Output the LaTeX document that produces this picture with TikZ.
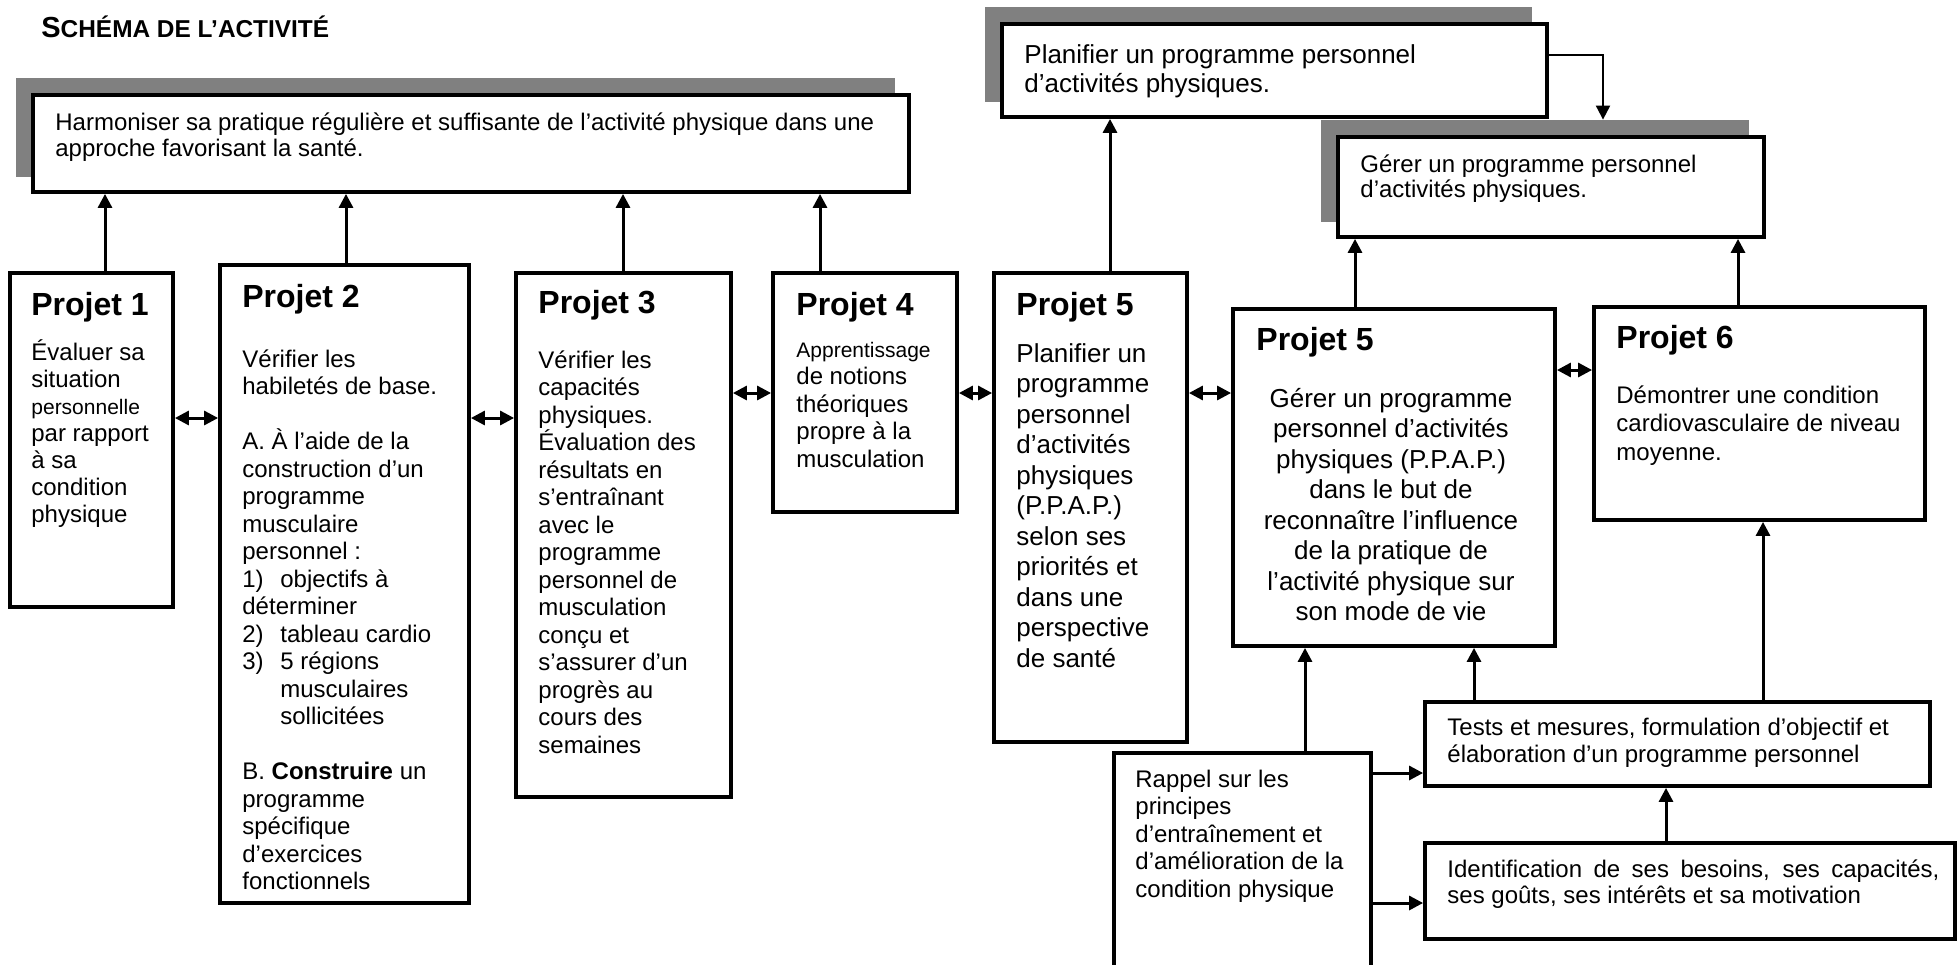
\documentclass[tikz,border=0pt]{standalone}
\usepackage{fontspec}
\setmainfont{Liberation Sans}
\usetikzlibrary{arrows.meta,fit}
\definecolor{shadowgray}{HTML}{808080}
\newcommand\txl[1]{\vtop{\let\\\cr\halign{##\hfil\cr#1\crcr}}}
\newcommand\txc[1]{\vtop{\let\\\cr\halign{\hfil##\hfil\cr#1\crcr}}}
\newcommand\fA{\fontsize{12}{13.5}\selectfont}
\newcommand\fB{\fontsize{12}{13.75}\selectfont}
\newcommand\fC{\fontsize{13}{15.25}\selectfont}
\tikzset{
  box/.style={draw, fill=white, line width=1.9pt, inner sep=0pt},
  openbox/.style={draw, line width=1.9pt, inner sep=0pt},
  shade/.style={fill=shadowgray, inner sep=0pt},
  txt/.style={inner sep=0pt, anchor=base west},
  ctxt/.style={inner sep=0pt, anchor=base},
  head/.style={txt, font=\bfseries\fontsize{16}{16}\selectfont},
  arr/.style={-{Triangle[length=7pt,width=7pt]}, line width=1.5pt},
  darr/.style={{Triangle[length=7pt,width=7pt]}-{Triangle[length=7pt,width=7pt]}, line width=1.5pt},
}
\begin{document}
\begin{tikzpicture}[x=0.5pt,y=-0.5pt]
\useasboundingbox (0,0) rectangle (1960,964);
\clip (0,0) rectangle (1960,964);

% column / row coordinates for connectors
\coordinate (c1) at (105,0);
\coordinate (c2) at (346,0);
\coordinate (c3) at (623,0);
\coordinate (c4) at (820,0);
\coordinate (c5) at (1110,0);
\coordinate (c6) at (1355,0);
\coordinate (c7) at (1738,0);
\coordinate (c8) at (1305,0);
\coordinate (c9) at (1474,0);
\coordinate (c10) at (1763,0);
\coordinate (c11) at (1666,0);
\coordinate (c12) at (1603,55);
\coordinate (r1) at (0,418);
\coordinate (r2) at (0,393);
\coordinate (r3) at (0,370);
\coordinate (r4) at (0,773);
\coordinate (r5) at (0,903);

% title
\node[txt] (title) at (41,37) {\bfseries\fontsize{14.5}{14.5}\selectfont S\fontsize{12.2}{12.2}\selectfont CHÉMA DE L’ACTIVITÉ};

% top goal boxes with shadows
\node[shade, fit={(16,78) (895,177)}] (mainsh) {};
\node[box, fit={(33,95) (909,192)}] (main) {};
\node[txt, font=\fontsize{12}{13}\selectfont] (maint) at (55,130) {\txl{Harmoniser sa pratique régulière et suffisante de l’activité physique dans une\\approche favorisant la santé.}};

\node[shade, fit={(985,7) (1532,102)}] (plansh) {};
\node[box, fit={(1002,24) (1547,117)}] (plan) {};
\node[txt, font=\fontsize{13}{14.5}\selectfont] (plant) at (1024,63) {\txl{Planifier un programme personnel\\d’activités physiques.}};

\node[shade, fit={(1321,120) (1749,222)}] (gersh) {};
\node[box, fit={(1338,137) (1764,237)}] (ger) {};
\node[txt, font=\fontsize{12}{12.75}\selectfont] (gert) at (1360,172) {\txl{Gérer un programme personnel\\d’activités physiques.}};

% project boxes
\node[box, fit={(10,273) (173,607)}] (p1) {};
\node[head] (p1h) at (31,315) {Projet 1};
\node[txt, font=\fA] (p1t) at (31,360) {\txl{Évaluer sa\\situation\\{\fontsize{10.5}{13.5}\selectfont personnelle}\\par rapport\\à sa\\condition\\physique}};

\node[box, fit={(220,265) (469,903)}] (p2) {};
\node[head] (p2h) at (242,307) {Projet 2};
\node[txt, font=\fB] (p2t) at (242,367) {\txl{Vérifier les\\habiletés de base.\\ \\A. À l’aide de la\\construction d’un\\programme\\musculaire\\personnel :\\\makebox[19pt][l]{1)}objectifs à\\déterminer\\\makebox[19pt][l]{2)}tableau cardio\\\makebox[19pt][l]{3)}5 régions\\\hspace*{19pt}musculaires\\\hspace*{19pt}sollicitées\\ \\B. \textbf{Construire} un\\programme\\spécifique\\d’exercices\\fonctionnels}};

\node[box, fit={(516,273) (731,797)}] (p3) {};
\node[head] (p3h) at (538,313) {Projet 3};
\node[txt, font=\fB] (p3t) at (538,368) {\txl{Vérifier les\\capacités\\physiques.\\Évaluation des\\résultats en\\s’entraînant\\avec le\\programme\\personnel de\\musculation\\conçu et\\s’assurer d’un\\progrès au\\cours des\\semaines}};

\node[box, fit={(773,273) (957,512)}] (p4) {};
\node[head] (p4h) at (796,315) {Projet 4};
\node[txt, font=\fB] (p4t) at (796,357) {\txl{{\fontsize{10.5}{13.75}\selectfont Apprentissage}\\de notions\\théoriques\\propre à la\\musculation}};

\node[box, fit={(994,273) (1187,742)}] (p5a) {};
\node[head] (p5ah) at (1016,315) {Projet 5};
\node[txt, font=\fC] (p5at) at (1016,362) {\txl{Planifier un\\programme\\personnel\\d’activités\\physiques\\(P.P.A.P.)\\selon ses\\priorités et\\dans une\\perspective\\de santé}};

\node[box, fit={(1233,309) (1555,646)}] (p5b) {};
\node[head] (p5bh) at (1256,350) {Projet 5};
\node[ctxt, font=\fC] (p5bt) at (1391,407) {\txc{Gérer un programme\\personnel d’activités\\physiques (P.P.A.P.)\\dans le but de\\reconnaître l’influence\\de la pratique de\\l’activité physique sur\\son mode de vie}};

\node[box, fit={(1594,307) (1925,520)}] (p6) {};
\node[head] (p6h) at (1616,348) {Projet 6};
\node[txt, font=\fontsize{12}{14.25}\selectfont] (p6t) at (1616,403) {\txl{Démontrer une condition\\cardiovasculaire de niveau\\moyenne.}};

% lower boxes
\node[openbox, fit={(1114,753) (1371,995)}] (rap) {};
\node[txt, font=\fB] (rapt) at (1135,787) {\txl{Rappel sur les\\principes\\d’entraînement et\\d’amélioration de la\\condition physique}};

\node[box, fit={(1425,702) (1930,786)}] (tests) {};
\node[txt, font=\fA] (testst) at (1447,735) {\txl{Tests et mesures, formulation d’objectif et\\élaboration d’un programme personnel}};

\node[box, fit={(1425,843) (1955,939)}] (ident) {};
\node[txt, font=\fontsize{12}{13.25}\selectfont] (identt) at (1447,877) {\txl{\makebox[246pt][s]{Identification de ses besoins, ses capacités,}\\ses goûts, ses intérêts et sa motivation}};

% vertical connectors
\draw[arr] (p1.north -| c1) -- (main.south -| c1);
\draw[arr] (p2.north -| c2) -- (main.south -| c2);
\draw[arr] (p3.north -| c3) -- (main.south -| c3);
\draw[arr] (p4.north -| c4) -- (main.south -| c4);
\draw[arr] (p5a.north -| c5) -- (plan.south -| c5);
\draw[arr] (p5b.north -| c6) -- (ger.south -| c6);
\draw[arr] (p6.north -| c7) -- (ger.south -| c7);
\draw[arr] (rap.north -| c8) -- (p5b.south -| c8);
\draw[arr] (tests.north -| c9) -- (p5b.south -| c9);
\draw[arr] (tests.north -| c10) -- (p6.south -| c10);
\draw[arr] (ident.north -| c11) -- (tests.south -| c11);
\draw[arr, line width=1pt] (plan.east |- c12) -| (gersh.north -| c12);

% horizontal connectors
\draw[darr] (p1.east |- r1) -- (p2.west |- r1);
\draw[darr] (p2.east |- r1) -- (p3.west |- r1);
\draw[darr] (p3.east |- r2) -- (p4.west |- r2);
\draw[darr] (p4.east |- r2) -- (p5a.west |- r2);
\draw[darr] (p5a.east |- r2) -- (p5b.west |- r2);
\draw[darr] (p5b.east |- r3) -- (p6.west |- r3);
\draw[arr] (rap.east |- r4) -- (tests.west |- r4);
\draw[arr] (rap.east |- r5) -- (ident.west |- r5);
\end{tikzpicture}
\end{document}
